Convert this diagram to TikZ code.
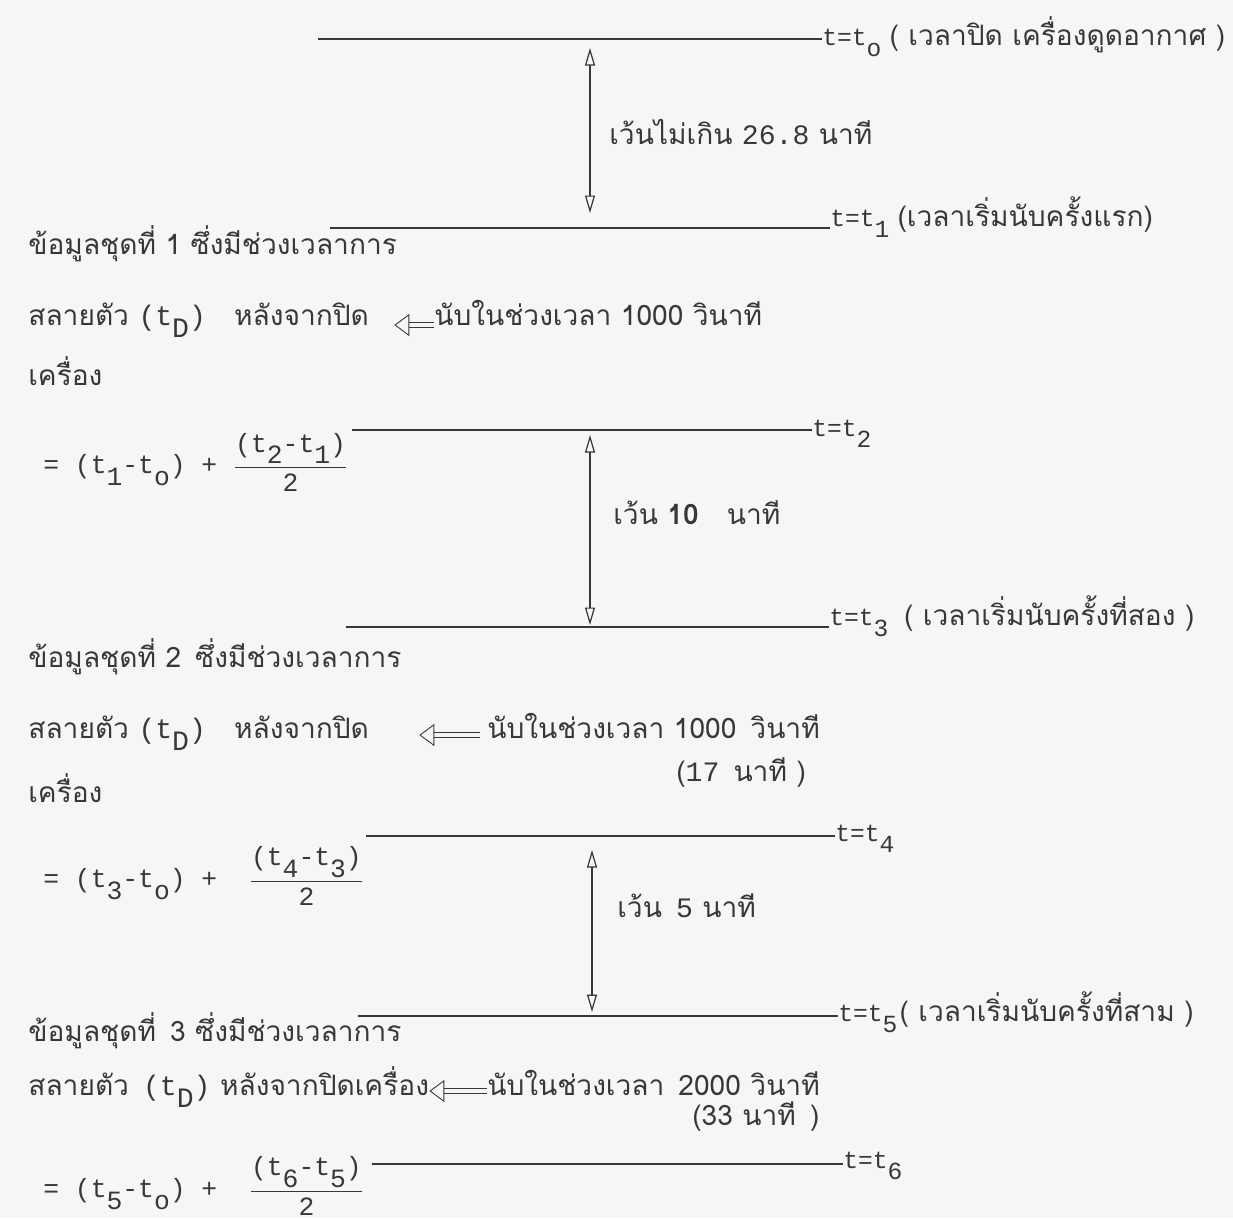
\documentclass[tikz,border=0pt]{standalone}
\usepackage{amsmath}
\usepackage{fontspec}
\setmainfont[Script=Thai]{Loma}
\setmonofont{Liberation Mono}
\usetikzlibrary{arrows.meta}
\usetikzlibrary{positioning}
\definecolor{ink}{gray}{0.22}
\definecolor{paper}{gray}{0.965}
\newcommand{\lo}[1]{\raisebox{-0.85ex}{#1}}

\begin{document}
\begin{tikzpicture}
    [
    x=0.02cm, y=-0.02cm,
    txt/.style={anchor=west,inner sep=0pt,text height=12pt,text depth=4pt,
      font=\fontsize{16}{18}\selectfont,text=ink},
    tlab/.style={anchor=base west,inner sep=0pt,font=\ttfamily\fontsize{14}{16}\selectfont,text=ink},
    eq/.style={anchor=west,inner sep=0pt,font=\ttfamily\fontsize{15}{17}\selectfont,text=ink},
    level/.style={draw=ink,line width=0.8pt},
    span/.style={draw=ink,line width=0.7pt,
      {Triangle[open,length=3.5mm,width=2mm]}-{Triangle[open,length=3.5mm,width=2mm]}},
    dbl/.style={draw=ink,double=paper,double distance=2.4pt,line width=0.5pt,
      -{Triangle[open,length=3mm,width=4.4mm]}}
    ]
    \useasboundingbox (0,0) rectangle (1233,1218);
    \fill[paper] (0,0) rectangle (1233,1218);

    % start and first count
    \coordinate (l0) at (318,39);
    \node (t0) at (822,45) [tlab] {t=t\lo{o}};
    \node (c0) [txt, right=1.5mm of t0.base east, anchor=base west] {( เวลาปิด เครื่องดูดอากาศ )};
    \draw[level] (l0) -- (l0 -| t0.west);
    \coordinate (a1) at (590,48);
    \coordinate (b1) at (590,213);
    \draw[span] (a1) -- (b1);
    \node (g1) at (609,137) [txt] {เว้นไม่เกิน \texttt{26.8} นาที};
    \coordinate (l1) at (330,228);
    \node (t1) at (830,226) [tlab] {t=t\lo{1}};
    \node (c1) [txt, right=1.5mm of t1.base east, anchor=base west] {(เวลาเริ่มนับครั้งแรก)};
    \draw[level] (l1) -- (l1 -| t1.west);

    % set 1
    \node (h1) at (28,247) [txt] {ข้อมูลชุดที่ 1 ซึ่งมีช่วงเวลาการ};
    \node (s1) at (28,318) [txt] {สลายตัว \texttt{(t\lo{D})}\quad หลังจากปิด};
    \node (n1) at (434,318) [txt] {นับในช่วงเวลา 1000 วินาที};
    \draw[dbl,shorten >=0.5cm] ([yshift=-0.14cm]n1.west) -- ([yshift=-0.14cm]s1.east);
    \node (m1) at (28,378) [txt] {เครื่อง};
    \node (e1) at (43,462) [eq] {= (t\lo{1}-t\lo{o}) + $\dfrac{\texttt{(t\lo{2}-t\lo{1})}}{\texttt{2}}$};
    \coordinate (l2) at (352,430);
    \node (t2) at (812,436) [tlab] {t=t\lo{2}};
    \draw[level] (l2) -- (l2 -| t2.west);
    \coordinate (a2) at (590,435);
    \coordinate (b2) at (590,625);
    \draw[span] (a2) -- (b2);
    \node (g2) at (613,517) [txt] {เว้น \textbf{10}\quad นาที};
    \coordinate (l3) at (346,627);
    \node (t3) at (829,625) [tlab] {t=t\lo{3}};
    \node (c3) [txt, right=3mm of t3.base east, anchor=base west] {( เวลาเริ่มนับครั้งที่สอง )};
    \draw[level] (l3) -- (l3 -| t3.west);

    % set 2
    \node (h2) at (28,660) [txt] {ข้อมูลชุดที่ 2\enspace ซึ่งมีช่วงเวลาการ};
    \node (s2) at (28,731) [txt] {สลายตัว \texttt{(t\lo{D})}\quad หลังจากปิด};
    \node (n2) at (487,731) [txt] {นับในช่วงเวลา 1000\enspace วินาที};
    \draw[dbl,shorten <=0.14cm,shorten >=1cm] ([yshift=-0.08cm]n2.west) -- ([yshift=-0.08cm]s2.east);
    \node (k2) at (676,774) [txt] {(\texttt{17}\enspace นาที )};
    \node (m2) at (28,795) [txt] {เครื่อง};
    \node (e2) at (43,876) [eq] {= (t\lo{3}-t\lo{o}) + \ $\dfrac{\texttt{(t\lo{4}-t\lo{3})}}{\texttt{2}}$};
    \coordinate (l4) at (366,836);
    \node (t4) at (835,841) [tlab] {t=t\lo{4}};
    \draw[level] (l4) -- (l4 -| t4.west);
    \coordinate (a3) at (592,850);
    \coordinate (b3) at (592,1012);
    \draw[span] (a3) -- (b3);
    \node (g3) at (617,910) [txt] {เว้น\enspace \texttt{5} นาที};
    \coordinate (l5) at (358,1016);
    \node (t5) at (838,1021) [tlab] {t=t\lo{5}};
    \node (c5) [txt, right=0.3mm of t5.base east, anchor=base west] {( เวลาเริ่มนับครั้งที่สาม )};
    \draw[level] (l5) -- (l5 -| t5.west);

    % set 3
    \node (h3) at (28,1034) [txt] {ข้อมูลชุดที่\enspace 3 ซึ่งมีช่วงเวลาการ};
    \node (s3) at (28,1088) [txt] {สลายตัว\enspace \texttt{(t\lo{D})} หลังจากปิดเครื่อง};
    \node (n3) at (487,1088) [txt] {นับในช่วงเวลา\enspace 2000 วินาที};
    \draw[dbl] ([yshift=-0.06cm]n3.west) -- ([yshift=-0.06cm]s3.east);
    \node (k3) at (692,1118) [txt] {(33 นาที\enspace )};
    \node (e3) at (43,1186) [eq] {= (t\lo{5}-t\lo{o}) + \ $\dfrac{\texttt{(t\lo{6}-t\lo{5})}}{\texttt{2}}$};
    \coordinate (l6) at (372,1164);
    \node (t6) at (843,1168) [tlab] {t=t\lo{6}};
    \draw[level] (l6) -- (l6 -| t6.west);
\end{tikzpicture}
\end{document}
